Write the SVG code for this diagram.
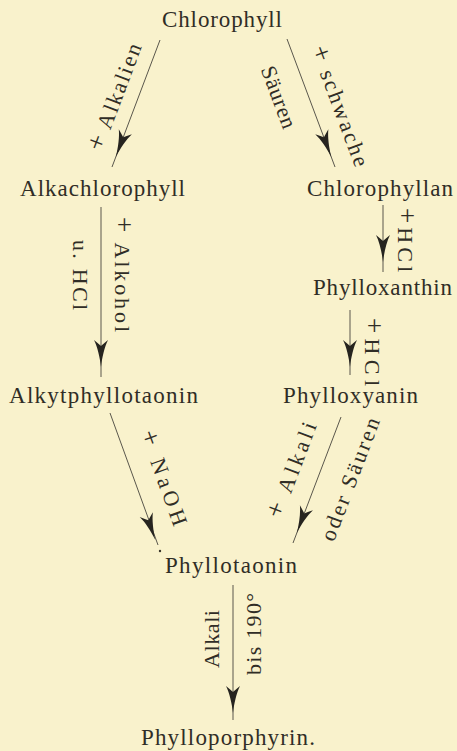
<svg xmlns="http://www.w3.org/2000/svg" xmlns:xlink="http://www.w3.org/1999/xlink" width="457" height="751" viewBox="0 0 457 751">
<style>
.node{font-family:"Liberation Serif","Times New Roman",serif;font-size:23px;fill:#302d26;}
.lbl{font-family:"Liberation Serif","Times New Roman",serif;font-size:22px;fill:#302d26;text-anchor:middle;}
.pl{font-size:27px;}
.ln{stroke:#5a574c;stroke-width:1;fill:none;}
.ah{fill:#26241f;}
</style>
<defs>
<path id="ah" d="M0,0 C-1.2,-10 -3.5,-20 -7,-27 Q-2.2,-23 0,-21 Q2.2,-23 7,-27 C3.5,-20 1.2,-10 0,0 Z"/>
</defs>
<rect x="0" y="0" width="457" height="751" fill="#f9f2cc"/>

<g id="connectors">
<line class="ln" x1="160" y1="40" x2="112" y2="167"/>
<use xlink:href="#ah" class="ah" transform="translate(115.8,157) rotate(20.7)"/>
<line class="ln" x1="287" y1="39" x2="335" y2="167"/>
<use xlink:href="#ah" class="ah" transform="translate(331.3,157) rotate(-20.6)"/>
<line class="ln" x1="101" y1="207" x2="101" y2="377"/>
<use xlink:href="#ah" class="ah" transform="translate(101,367)"/>
<line class="ln" x1="383" y1="205" x2="383" y2="272"/>
<use xlink:href="#ah" class="ah" transform="translate(383,262)"/>
<line class="ln" x1="350" y1="310" x2="350" y2="375"/>
<use xlink:href="#ah" class="ah" transform="translate(350,367)"/>
<line class="ln" x1="110" y1="413" x2="158" y2="545"/>
<use xlink:href="#ah" class="ah" transform="translate(155.4,540) rotate(-19.7)"/>
<circle cx="160" cy="551" r="1.2" fill="#3a362c"/>
<line class="ln" x1="341" y1="417" x2="293" y2="543"/>
<use xlink:href="#ah" class="ah" transform="translate(296.8,533) rotate(20.9)"/>
<line class="ln" x1="233" y1="585" x2="233" y2="720"/>
<use xlink:href="#ah" class="ah" transform="translate(233,713)"/>
</g>

<g id="labels">
<text class="lbl" transform="translate(115,97) rotate(-69.3)" x="0" y="7.5" textLength="113" lengthAdjust="spacing"><tspan class="pl">+</tspan> Alkalien</text>
<text class="lbl" transform="translate(340,106) rotate(69.4)" x="0" y="7.5" textLength="127" lengthAdjust="spacing"><tspan class="pl">+</tspan> schwache</text>
<text class="lbl" transform="translate(279,97) rotate(69.4)" x="0" y="7.5" textLength="65" lengthAdjust="spacing">Säuren</text>
<text class="lbl" transform="translate(122,274.5) rotate(90)" x="0" y="7.5" textLength="115" lengthAdjust="spacing"><tspan class="pl">+</tspan> Alkohol</text>
<text class="lbl" transform="translate(80,275) rotate(90)" x="0" y="7.5" textLength="70" lengthAdjust="spacing">u. HCl</text>
<text class="lbl" transform="translate(405,240) rotate(90)" x="0" y="7.5" textLength="64" lengthAdjust="spacing"><tspan class="pl">+</tspan>HCl</text>
<text class="lbl" transform="translate(372,352) rotate(90)" x="0" y="7.5" textLength="68" lengthAdjust="spacing"><tspan class="pl">+</tspan>HCl</text>
<text class="lbl" transform="translate(164,478) rotate(70)" x="0" y="7.5" textLength="100" lengthAdjust="spacing"><tspan class="pl">+</tspan> NaOH</text>
<text class="lbl" transform="translate(292,470) rotate(-69.1)" x="0" y="7.5" textLength="101" lengthAdjust="spacing"><tspan class="pl">+</tspan> Alkali</text>
<text class="lbl" transform="translate(350,479) rotate(-69.1)" x="0" y="7.5" textLength="130" lengthAdjust="spacing">oder Säuren</text>
<text class="lbl" transform="translate(211,639) rotate(-90)" x="0" y="7.5" textLength="58" lengthAdjust="spacing">Alkali</text>
<text class="lbl" transform="translate(253,634) rotate(-90)" x="0" y="7.5" textLength="82" lengthAdjust="spacing">bis 190°</text>
</g>

<g id="chlorophyll"><text class="node" x="162" y="27" textLength="120" lengthAdjust="spacing">Chlorophyll</text></g>
<g id="alkachlorophyll"><text class="node" x="20" y="196" textLength="165" lengthAdjust="spacing">Alkachlorophyll</text></g>
<g id="chlorophyllan"><text class="node" x="307" y="196" textLength="146" lengthAdjust="spacing">Chlorophyllan</text></g>
<g id="phylloxanthin"><text class="node" x="313" y="295" textLength="139" lengthAdjust="spacing">Phylloxanthin</text></g>
<g id="alkytphyllotaonin"><text class="node" x="9" y="403" textLength="189" lengthAdjust="spacing">Alkytphyllotaonin</text></g>
<g id="phylloxyanin"><text class="node" x="283" y="403" textLength="135" lengthAdjust="spacing">Phylloxyanin</text></g>
<g id="phyllotaonin"><text class="node" x="165" y="573" textLength="132" lengthAdjust="spacing">Phyllotaonin</text></g>
<g id="phylloporphyrin"><text class="node" x="141" y="745" textLength="174" lengthAdjust="spacing">Phylloporphyrin.</text></g>
</svg>
